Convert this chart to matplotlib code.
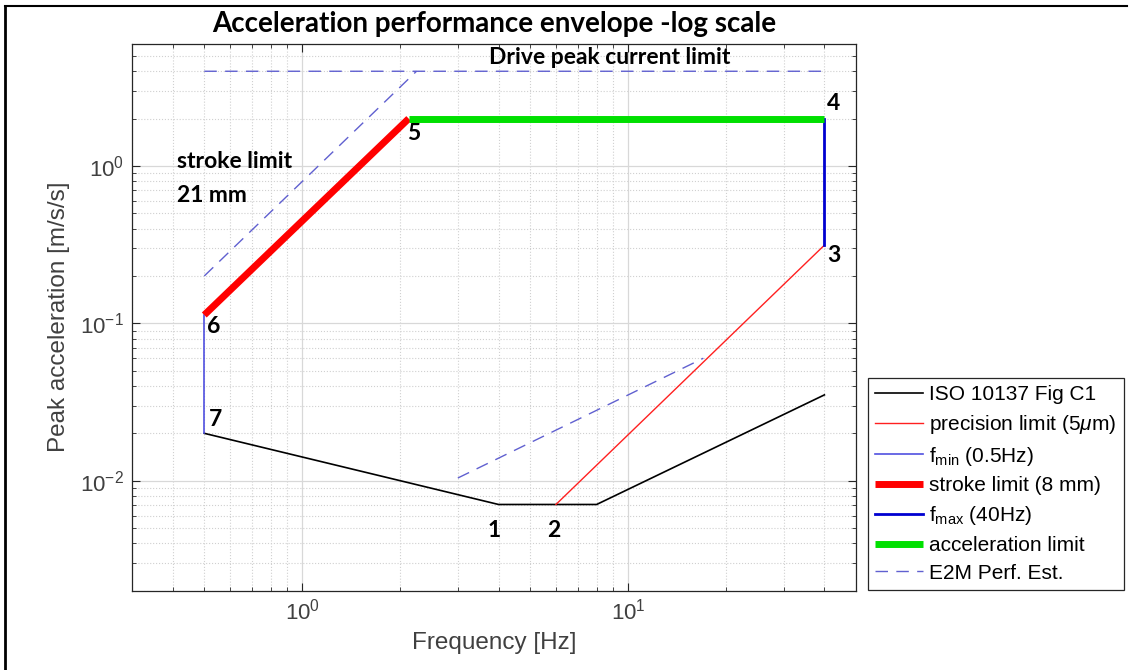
import numpy as np
import matplotlib
matplotlib.use("Agg")
import matplotlib.pyplot as plt
from matplotlib.lines import Line2D

# ---- data ----
iso_f = [0.5, 4, 8, 40]
iso_a = [0.02, 0.00706, 0.00706, 0.0351]

prec_f = [6, 40]
prec_a = [0.00706, 0.314]

fmin_f = [0.5, 0.5]
fmin_a = [0.02, 0.113]

stroke_f = [0.5, 2.12]
stroke_a = [0.113, 2.0]

fmax_f = [40, 40]
fmax_a = [0.314, 2.0]

accel_f = [2.12, 40]
accel_a = [2.0, 2.0]

# E2M estimate: three separate dashed pieces
e2m_f = [0.5, 40, np.nan, 0.5, 2.24, np.nan, 3, 17]
e2m_a = [4.0, 4.0, np.nan, 0.2, 4.0, np.nan, 0.0104, 0.06]

point_labels = ["1", "2", "3", "4", "5", "6", "7"]
point_f = [3.87, 5.91, 42.7, 42.7, 2.19, 0.536, 0.543]
point_a = [0.0048, 0.0048, 0.271, 2.5, 1.61, 0.0948, 0.0244]

plt.rcParams["font.family"] = ["Liberation Sans", "DejaVu Sans"]
plt.rcParams["mathtext.fontset"] = "custom"
plt.rcParams["mathtext.rm"] = "Liberation Sans"
plt.rcParams["mathtext.it"] = "Liberation Sans:italic"
plt.rcParams["mathtext.default"] = "regular"

grey = "#404040"
note_font = ["Lato", "DejaVu Sans"]

fig = plt.figure(figsize=(11.33, 6.70), dpi=100)
ax = fig.add_axes([0.1165, 0.1184, 0.639, 0.8166])

ax.plot(iso_f, iso_a, color="black", lw=1.2, label="ISO 10137 Fig C1")
ax.plot(prec_f, prec_a, color="#ff2020", lw=1.0, label=r"precision limit (5$\mathit{\mu}$m)")
ax.plot(fmin_f, fmin_a, color="#5050e0", lw=1.2, label=r"f$_{min}$ (0.5Hz)")
ax.plot(stroke_f, stroke_a, color="#ff0000", lw=5, solid_capstyle="butt", label="stroke limit (8 mm)")
ax.plot(fmax_f, fmax_a, color="#0000d0", lw=2, label=r"f$_{max}$ (40Hz)")
ax.plot(accel_f, accel_a, color="#00e000", lw=5, solid_capstyle="butt", label="acceleration limit")
ax.plot(e2m_f, e2m_a, color="#6060d0", lw=1.0, dashes=(9, 6), label="E2M Perf. Est.")

ax.set_xscale("log")
ax.set_yscale("log")
ax.set_xlim(0.3, 50)
ax.set_ylim(0.002, 6)

# MATLAB-like grid and ticks
ax.grid(True, which="major", color="#d8d8d8", lw=0.9, ls="-")
ax.grid(True, which="minor", color="#d0d0d0", lw=0.8, ls=":")
ax.set_axisbelow(True)
ax.tick_params(which="both", direction="in", top=True, right=True, colors="#262626",
               labelcolor=grey, labelsize=16)
ax.tick_params(which="major", length=6, pad=6)
ax.tick_params(which="minor", length=3)
for s in ax.spines.values():
    s.set_color("#262626")
    s.set_linewidth(0.9)

ax.set_xlabel("Frequency [Hz]", fontsize=17.5, color=grey, labelpad=5)
ax.set_ylabel("Peak acceleration [m/s/s]", fontsize=17.5, color=grey, labelpad=7)
ax.set_title("Acceleration performance envelope -log scale", fontsize=20,
             fontweight="bold", family=note_font, pad=8)

for lab, f, a in zip(point_labels, point_f, point_a):
    ax.text(f, a, lab, fontsize=16.5, fontweight="bold", family=note_font,
            ha="center", va="center")

ax.text(0.413, 1.07, "stroke limit", fontsize=16.5, fontweight="bold", family=note_font,
        ha="left", va="center")
ax.text(0.413, 0.652, "21 mm", fontsize=16.5, fontweight="bold", family=note_font,
        ha="left", va="center")
ax.text(8.77, 4.9, "Drive peak current limit", fontsize=16.5, fontweight="bold",
        family=note_font, ha="center", va="center")

leg = ax.legend(loc="lower left", bbox_to_anchor=(868 / 1133, 80 / 670), bbox_transform=fig.transFigure,
                fontsize=15, frameon=True, fancybox=False, framealpha=1,
                edgecolor="#262626", handlelength=2.3, handletextpad=0.3,
                labelspacing=0.42, borderpad=0.35, borderaxespad=0)
leg.get_frame().set_linewidth(0.9)

# screenshot border on left and top
fig.add_artist(Line2D([5 / 1133, 5 / 1133], [0, 1 - 6 / 670], color="black", lw=2,
                      transform=fig.transFigure))
fig.add_artist(Line2D([5 / 1133, 1127 / 1133], [1 - 6 / 670, 1 - 6 / 670], color="black", lw=1.5,
                      transform=fig.transFigure))

fig.savefig("out.png", dpi=100)
